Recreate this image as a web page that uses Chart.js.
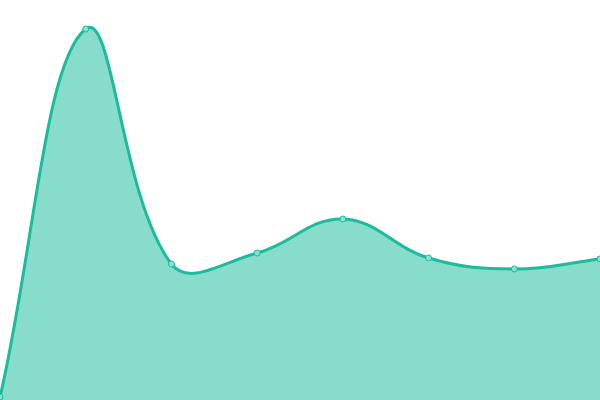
<!DOCTYPE html>
<html>
<head>
<meta charset="utf-8">
<script src="https://cdn.jsdelivr.net/npm/chart.js@4"></script>
<style>
  html, body { margin: 0; padding: 0; background: #fff; }
  #wrap { width: 600px; height: 400px; }
</style>
</head>
<body>
<div id="wrap"><canvas id="myAreaChart"></canvas></div>
<script>
const labels = ['1', '2', '3', '4', '5', '6', '7', '8'];
const values = [3, 371, 136, 147, 181, 142, 131, 141];

const ctx = document.getElementById('myAreaChart').getContext('2d');

new Chart(ctx, {
    type: 'line',
    data: {
        labels: labels,
        datasets: [
            {
                data: values,
                fill: true,
                backgroundColor: 'rgba(26, 188, 156, 0.52)',
                borderColor: '#1abc9c',
                borderWidth: 3,
                tension: 0.4,
                pointRadius: 3,
                pointBorderWidth: 1,
                pointBackgroundColor: '#8be0cf',
                pointBorderColor: '#1abc9c',
            },
        ],
    },
    options: {
        responsive: true,
        maintainAspectRatio: false,
        animation: false,
        layout: { padding: 0, autoPadding: false },
        scales: {
            x: { display: false, offset: false },
            y: { display: false, min: 0, max: 400 },
        },
        plugins: {
            legend: { display: false },
            tooltip: { enabled: false },
        },
    },
});
</script>
</body>
</html>
